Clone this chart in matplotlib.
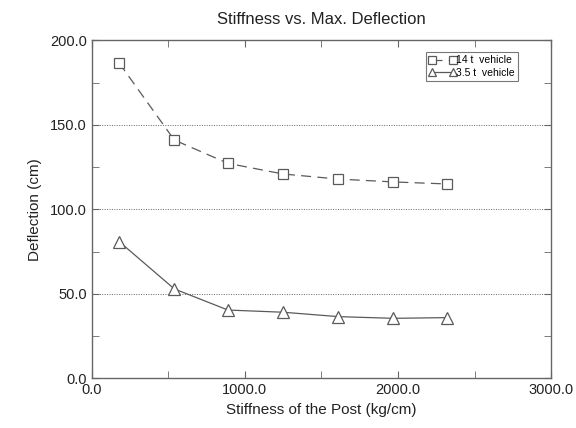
import matplotlib
matplotlib.use("Agg")
import matplotlib.pyplot as plt
from matplotlib.ticker import MultipleLocator, FormatStrFormatter

plt.rcParams['font.family'] = ['Liberation Sans', 'DejaVu Sans']

stiffness = [180, 540, 890, 1250, 1610, 1970, 2320]
defl_14t = [186.7, 141.1, 127.3, 121.0, 118.0, 116.3, 115.1]
defl_35t = [81.0, 53.0, 40.5, 39.2, 36.6, 35.6, 36.0]

title = "Stiffness vs. Max. Deflection"
xlabel = "Stiffness of the Post (kg/cm)"
ylabel = "Deflection (cm)"
labels = ["14 t  vehicle", "3.5 t  vehicle"]

fig = plt.figure(figsize=(5.76, 4.28), dpi=100)
ax = fig.add_axes([0.159, 0.1157, 0.798, 0.7897])

c = '#5a5a5a'
ax.plot(stiffness, defl_14t, color=c, lw=0.9, ls=(0, (8, 5)), marker='s', ms=7,
        mfc='white', mec=c, mew=0.9, label=labels[0])
ax.plot(stiffness, defl_35t, color=c, lw=0.9, ls='-', marker='^', ms=8.5,
        mfc='white', mec=c, mew=0.9, label=labels[1])

ax.set_xlim(0, 3000)
ax.set_ylim(0, 200)
ax.xaxis.set_major_locator(MultipleLocator(1000))
ax.xaxis.set_minor_locator(MultipleLocator(500))
ax.yaxis.set_major_locator(MultipleLocator(50))
ax.yaxis.set_minor_locator(MultipleLocator(25))
ax.xaxis.set_major_formatter(FormatStrFormatter('%.1f'))
ax.yaxis.set_major_formatter(FormatStrFormatter('%.1f'))
ax.tick_params(which='both', direction='in', top=True, right=True, color='#666666',
               labelsize=10.5, labelcolor='#222222')
ax.tick_params(which='major', length=5)
ax.tick_params(which='minor', length=5)
for s in ax.spines.values():
    s.set_color('#666666')
    s.set_linewidth(1.0)

ax.yaxis.grid(True, which='major', ls=(0, (1, 1.5)), color='#666666', lw=0.7)

ax.set_title(title, fontsize=12, color='#222222', pad=12)
ax.set_xlabel(xlabel, fontsize=11, color='#222222', labelpad=4)
ax.set_ylabel(ylabel, fontsize=11, color='#222222', labelpad=6)

leg = ax.legend(loc='upper right', bbox_to_anchor=(0.928, 0.965), fontsize=7.5,
                frameon=True, fancybox=False, numpoints=2, handlelength=2.6,
                handletextpad=0.05, borderpad=0.3, labelspacing=0.2,
                borderaxespad=0.0)
leg.get_frame().set_edgecolor('#555555')
leg.get_frame().set_linewidth(0.8)
for h in leg.legend_handles:
    h.set_markersize(6)

fig.savefig("out.png", dpi=100)
